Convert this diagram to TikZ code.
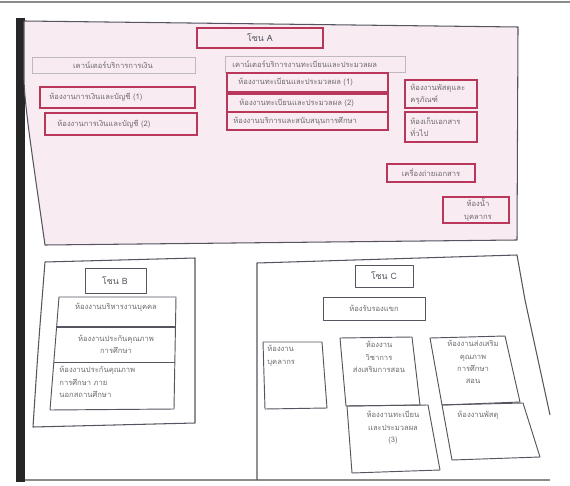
\documentclass[tikz,border=0pt]{standalone}
\usepackage{fontspec}
\newfontfamily\thaifont[Script=Thai]{Loma}

\definecolor{wallgray}{RGB}{85,85,95}
\definecolor{roompink}{RGB}{185,55,90}
\definecolor{countergray}{RGB}{190,185,190}
\definecolor{zonepink}{RGB}{248,236,242}
\definecolor{textgray}{RGB}{110,105,110}
\definecolor{edgegray}{RGB}{140,140,140}

\tikzset{
  wall/.style={draw=wallgray, line width=0.9pt, line join=round},
  pinkroom/.style={draw=roompink, line width=1.1pt},
  counter/.style={draw=countergray, line width=0.8pt},
  room/.style={draw=wallgray, line width=0.8pt, line join=round},
  roomtext/.style={font={\thaifont\fontsize{6.5}{10.5}\selectfont}, text=textgray, align=center, inner sep=1pt},
  zonetitle/.style={font={\thaifont\fontsize{7.5}{9}\selectfont}, text=wallgray, inner sep=1pt}
}

\begin{document}
\begin{tikzpicture}[x=0.03cm, y=-0.03cm]
\useasboundingbox (0,0) rectangle (570,486);

% page edges
\draw[edgegray, line width=1.5pt] (0,2) -- (570,2);
\fill[black!85] (16,18) rectangle (25,482);
\draw[edgegray, line width=0.9pt] (25,480) -- (550,480);

% ---- zone A ----
\filldraw[wall, fill=zonepink] (24,21) -- (518,27) -- (517,240) -- (45,245)
   .. controls (33,160) and (25,110) .. (24,80) -- cycle;
\draw[pinkroom] (197,28) rectangle (323,48);
\node[zonetitle] (titleA) at (260,38) {โซน A};

% counters
\draw[counter] (32,57) rectangle (195,73);
\node[roomtext] (counterFin) at (113,65) {เคาน์เตอร์บริการการเงิน};
\draw[counter] (225,56) rectangle (405,72);
\node[roomtext, anchor=west] (counterReg) at (231,64) {เคาน์เตอร์บริการงานทะเบียนและประมวลผล};

% finance rooms
\draw[pinkroom] (40,87) rectangle (195,108);
\node[roomtext, anchor=west] (fin1) at (48,97) {ห้องงานการเงินและบัญชี (1)};
\draw[pinkroom] (45,113) rectangle (197,135);
\node[roomtext, anchor=west] (fin2) at (56,124) {ห้องงานการเงินและบัญชี (2)};

% registration rooms
\draw[pinkroom] (227,73) rectangle (388,92);
\node[roomtext, anchor=west] (reg1) at (237,82) {ห้องงานทะเบียนและประมวลผล (1)};
\draw[pinkroom] (227,94) rectangle (388,112);
\node[roomtext, anchor=west] (reg2) at (238,103) {ห้องงานทะเบียนและประมวลผล (2)};
\draw[pinkroom] (227,112) rectangle (388,130);
\node[roomtext, anchor=west] (reg3) at (232,121) {ห้องงานบริการและสนับสนุนการศึกษา};

% small rooms on the right
\draw[pinkroom] (405,80) rectangle (477,108);
\node[roomtext, anchor=west, align=left] (supply) at (409,94) {ห้องงานพัสดุและ\\ครุภัณฑ์};
\draw[pinkroom] (405,112) rectangle (477,142);
\node[roomtext, anchor=west, align=left] (archive) at (409,127) {ห้องเก็บเอกสาร\\ทั่วไป};
\draw[pinkroom] (387,164) rectangle (475,182);
\node[roomtext] (copier) at (431,173) {เครื่องถ่ายเอกสาร};
\draw[pinkroom] (443,197) rectangle (509,223);
\node[roomtext] (toilet) at (478,210) {ห้องน้ำ\\บุคลากร};

% ---- zone B ----
\draw[wall] (45,262) -- (195,258) -- (195,423) -- (33,427) .. controls (38,350) .. (45,262);
\draw[room] (85,268) rectangle (146,293);
\node[zonetitle] (titleB) at (115,281) {โซน B};
\draw[room] (59,297) -- (176,297) -- (174,409) -- (50,410) -- cycle;
\draw[wallgray, line width=1.6pt] (57,327) -- (176,327);
\draw[room] (54,362) -- (175,362);
\node[roomtext] (staff) at (116,307) {ห้องงานบริหารงานบุคคล};
\node[roomtext] (quality) at (116,344) {ห้องงานประกันคุณภาพ\\การศึกษา};
\node[roomtext, anchor=north west, align=left] (extquality) at (58,365) {ห้องงานประกันคุณภาพ\\การศึกษา ภาย\\นอกสถานศึกษา};

% ---- zone C ----
\draw[wall] (257,480) -- (257,263) -- (517,255) -- (525,300) -- (550,415);
\draw[room] (355,265) rectangle (413,287);
\node[zonetitle] (titleC) at (384,276) {โซน C};
\draw[room] (323,297) rectangle (425,320);
\node[roomtext] (guest) at (374,308) {ห้องรับรองแขก};

\draw[room] (263,342) -- (322,342) -- (327,408) -- (265,409) -- cycle;
\node[roomtext, anchor=north west, align=left] (personnel) at (266,344) {ห้องงาน\\บุคลากร};
\draw[room] (340,338) -- (412,337) -- (420,405) -- (346,406) -- cycle;
\node[roomtext, anchor=north] (academic) at (379,340) {ห้องงาน\\วิชาการ\\ส่งเสริมการสอน};
\draw[room] (430,338) -- (505,336) -- (520,402) -- (442,405) -- cycle;
\node[roomtext, anchor=north] (promote) at (473,339) {ห้องงานส่งเสริม\\คุณภาพ\\การศึกษา\\สอน};
\draw[room] (347,406) -- (428,405) -- (440,470) -- (352,473) -- cycle;
\node[roomtext, anchor=north] (reg4) at (393,410) {ห้องงานทะเบียน\\และประมวลผล\\(3)};
\draw[room] (442,405) -- (523,403) -- (540,457) -- (452,460) -- cycle;
\node[roomtext, anchor=north] (parcel) at (478,410) {ห้องงานพัสดุ};

\end{tikzpicture}
\end{document}
